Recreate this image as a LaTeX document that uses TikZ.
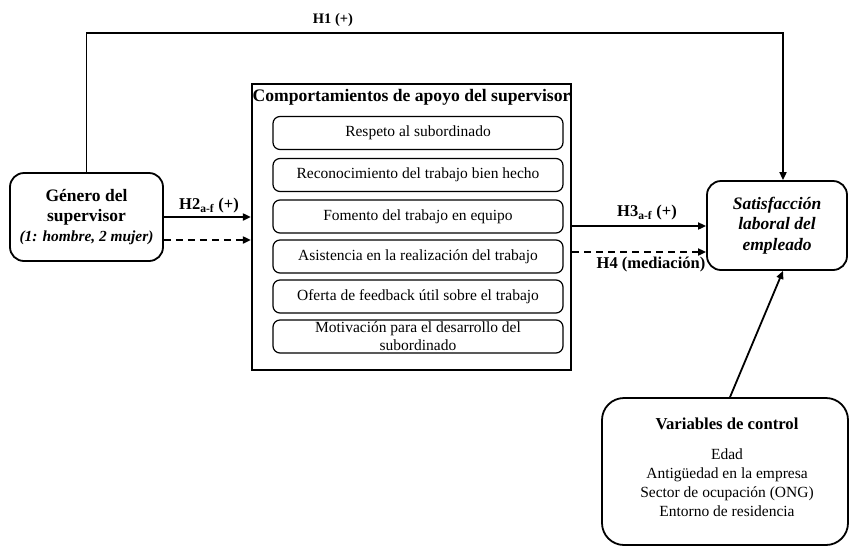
\documentclass[tikz,border=0pt]{standalone}
\usepackage{fontspec}
\setmainfont{Liberation Serif}
\usetikzlibrary{arrows.meta}
\tikzset{
  box/.style={draw=black, line width=1.8pt, rounded corners=14pt, inner sep=0pt},
  itembox/.style={draw=black, line width=1.2pt, rounded corners=7pt, minimum width=290pt, minimum height=33pt, inner sep=0pt, align=center, font=\fontsize{15.5}{18}\selectfont},
  frame/.style={draw=black, line width=2.2pt, inner sep=0pt},
  conn/.style={line width=1.8pt, -{Triangle[length=8pt,width=7pt]}},
  dconn/.style={conn, dash pattern=on 7pt off 5pt},
  hlabel/.style={font=\fontsize{16.5}{19}\selectfont\bfseries, inner sep=1pt},
}
\begin{document}
\begin{tikzpicture}[x=1pt,y=-1pt]
\useasboundingbox (0,0) rectangle (850,547);

% left box
\node[box, minimum width=153pt, minimum height=88pt, align=center, font=\fontsize{17.5}{20.5}\selectfont\bfseries] (gen) at (86.5,217)
  {Género del\\supervisor\\[-1pt]\fontsize{15.4}{19}\selectfont\itshape (1: hombre, 2 mujer)};

% middle frame
\node[frame, minimum width=319pt, minimum height=286pt] (mid) at (411.5,227) {};
\node[font=\fontsize{17.6}{20}\selectfont\bfseries, inner sep=0pt] (midtitle) at (411.5,97) {Comportamientos de apoyo del supervisor};
\node[itembox] (b1) at (418,133) {Respeto al subordinado};
\node[itembox] (b2) at (418,175) {Reconocimiento del trabajo bien hecho};
\node[itembox] (b3) at (418,216.5) {Fomento del trabajo en equipo};
\node[itembox] (b4) at (418,256.5) {Asistencia en la realización del trabajo};
\node[itembox] (b5) at (418,296.5) {Oferta de feedback útil sobre el trabajo};
\node[itembox] (b6) at (418,336.5) {Motivación para el desarrollo del\\subordinado};

% right box
\node[box, minimum width=140pt, minimum height=89pt, align=center, font=\fontsize{17.5}{20.5}\selectfont\bfseries\itshape] (sat) at (777,225.5)
  {Satisfacción\\laboral del\\empleado};

% control box
\node[box, rounded corners=22pt, minimum width=246pt, minimum height=147pt] (ctrl) at (725,471.5) {};
\node[align=center, inner sep=0pt, font=\fontsize{15.5}{19}\selectfont] (ctrltxt) at (727,467)
  {\fontsize{16.7}{19}\selectfont\bfseries Variables de control\\[11pt]Edad\\Antigüedad en la empresa\\Sector de ocupación (ONG)\\Entorno de residencia};

% H1
\coordinate (h1c) at (783,33);
\draw[conn] (gen.north) |- (h1c) -- (h1c |- sat.north);
\node[hlabel, font=\fontsize{14.5}{16}\selectfont\bfseries] (h1) at (333,20) {H1 (+)};

% H2
\draw[conn] (gen.east) -- (gen.east -| mid.west);
\draw[dconn] ([yshift=-23pt]gen.east) -- ([yshift=-23pt]gen.east -| mid.west);
\node[hlabel] (h2) at (209,206) {H2\textsubscript{a-f} (+)};

% H3, H4
\draw[conn] ([yshift=-0.5pt]sat.west -| mid.east) -- ([yshift=-0.5pt]sat.west);
\draw[dconn] ([yshift=-26.5pt]sat.west -| mid.east) -- ([yshift=-26.5pt]sat.west);
\node[hlabel] (h3) at (647,213) {H3\textsubscript{a-f} (+)};
\node[hlabel] (h4) at (651,265) {H4 (mediación)};

% control arrow
\draw[conn] ([xshift=5pt]ctrl.north) -- ([xshift=6pt]sat.south);
\end{tikzpicture}
\end{document}
